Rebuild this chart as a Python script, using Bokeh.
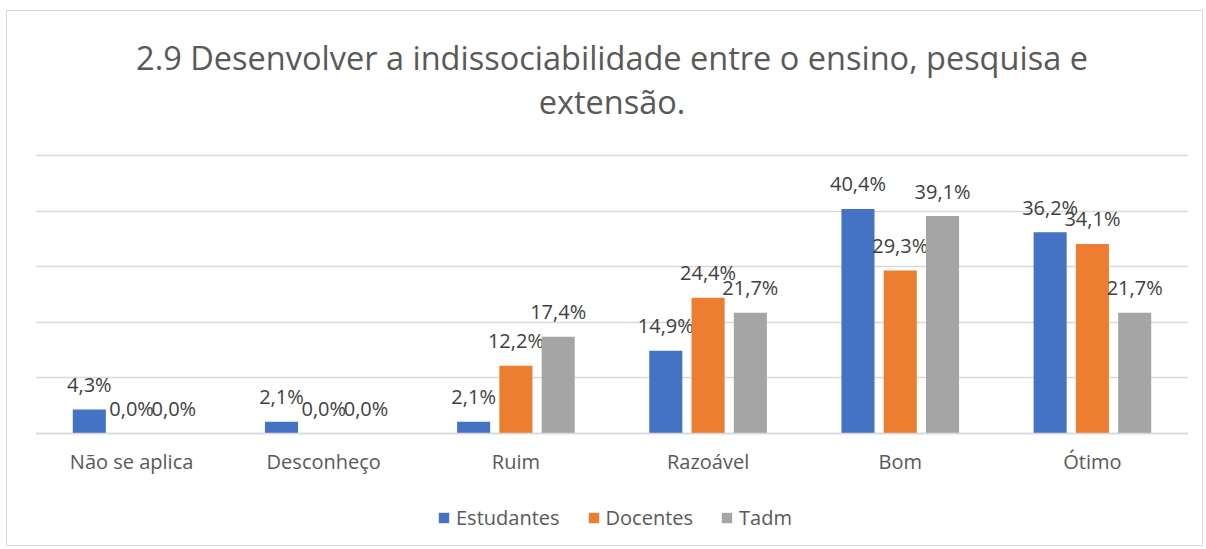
from bokeh.plotting import figure
from bokeh.models import Range1d, FactorRange, Label, Legend, LegendItem, ColumnDataSource
from bokeh.transform import dodge
from bokeh.core.properties import value
from bokeh.embed import file_html
from bokeh.resources import INLINE

categories = ["Não se aplica", "Desconheço", "Ruim", "Razoável", "Bom", "Ótimo"]
estudantes = [4.3, 2.1, 2.1, 14.9, 40.4, 36.2]
docentes = [0.0, 0.0, 12.2, 24.4, 29.3, 34.1]
tadm = [0.0, 0.0, 17.4, 21.7, 39.1, 21.7]
series_names = ["Estudantes", "Docentes", "Tadm"]
title_lines = ["2.9 Desenvolver a indissociabilidade entre o ensino, pesquisa e", "extensão."]
grid_ticks = [0, 10, 20, 30, 40, 50]

colors = ["#4472C4", "#ED7D31", "#A5A5A5"]
FONT = "Open Sans"

def fmt(v):
    return f"{v:.1f}".replace(".", ",") + "%"

src = ColumnDataSource(dict(
    cat=categories,
    est=estudantes, doc=docentes, tad=tadm,
    est_l=[fmt(v) for v in estudantes],
    doc_l=[fmt(v) for v in docentes],
    tad_l=[fmt(v) for v in tadm],
))

# frame spans the full height; the y range reaches above (title) and below (axis labels, legend)
p = figure(x_range=FactorRange(*categories, range_padding=0), y_range=Range1d(-20.5, 75.9),
           width=1197, height=536, output_backend="svg", toolbar_location=None,
           min_border_left=28, min_border_right=16, min_border_top=0, min_border_bottom=0)
p.margin = (10, 0, 0, 6)
p.styles = {"border": "1px solid #d9d9d9"}
p.outline_line_color = None
p.background_fill_color = "white"
p.border_fill_color = "white"

offsets = [-0.22, 0.0, 0.22]
cols = [("est", "est_l"), ("doc", "doc_l"), ("tad", "tad_l")]
renderers = []
for (col, lcol), off, c in zip(cols, offsets, colors):
    r = p.vbar(x=dodge("cat", off, range=p.x_range), top=col, width=0.172, bottom=0,
               source=src, fill_color=c, line_color=None)
    renderers.append(r)
    p.text(x=dodge("cat", off, range=p.x_range), y=col, text=lcol, source=src,
           text_font=value(FONT), text_font_size="20px", text_color="#404040",
           text_align="center", text_baseline="alphabetic", y_offset=-25)

p.yaxis.visible = False
p.xgrid.grid_line_color = None
p.ygrid.grid_line_color = "#d9d9d9"
p.ygrid.grid_line_width = 1.5
p.yaxis.ticker = grid_ticks
p.xaxis.fixed_location = 0
p.xaxis.axis_line_color = "#d9d9d9"
p.xaxis.axis_line_width = 1.5
p.xaxis.major_tick_line_color = None
p.xaxis.minor_tick_line_color = None
p.xaxis.major_tick_out = 0
p.xaxis.major_tick_in = 0
p.xaxis.major_label_text_font = FONT
p.xaxis.major_label_text_font_size = "20px"
p.xaxis.major_label_text_color = "#595959"
p.xaxis.major_label_standoff = 14

title_y = [67.7, 59.8]
for txt, yy in zip(title_lines, title_y):
    p.add_layout(Label(x=3, y=yy, text=txt, text_font=FONT, text_font_size="32.5px",
                       text_color="#595959", text_align="center", text_baseline="alphabetic"))

legend = Legend(items=[LegendItem(label=n, renderers=[r]) for n, r in zip(series_names, renderers)],
                location=(402, 16), orientation="horizontal",
                glyph_width=13, glyph_height=13, label_standoff=6, spacing=27,
                padding=0, margin=0, border_line_color=None, background_fill_alpha=0,
                label_text_font=FONT, label_text_font_size="20px", label_text_color="#595959")
p.add_layout(legend, "center")

open("out.html", "w").write(file_html(p, INLINE))
